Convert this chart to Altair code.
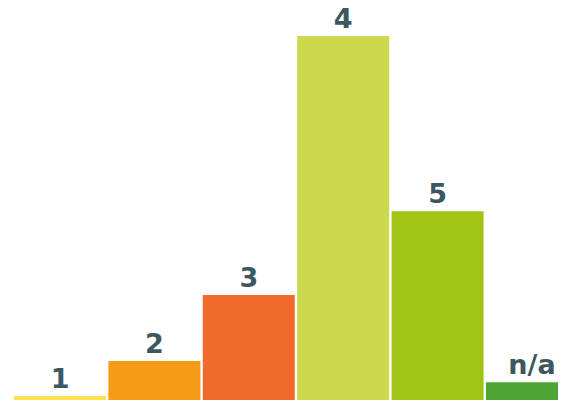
import altair as alt
import pandas as pd

categories = ["1", "2", "3", "4", "5", "n/a"]
values = [1.3, 10.2, 27.0, 92.9, 48.3, 4.8]
colors = ["#FFE14F", "#F59B15", "#EF6A2B", "#CCD84E", "#A0C316", "#4CA535"]

df = pd.DataFrame({"cat": categories, "val": values})

x = alt.X("cat:N", sort=None, axis=None,
          scale=alt.Scale(paddingInner=0.025, paddingOuter=0))
y = alt.Y("val:Q", axis=None, scale=alt.Scale(domain=[0, 96.97], nice=False))

bars = alt.Chart(df).mark_bar().encode(
    x=x, y=y,
    color=alt.Color("cat:N", sort=None, legend=None,
                    scale=alt.Scale(domain=categories, range=colors)),
)

labels = alt.Chart(df).mark_text(
    font="DejaVu Sans", fontWeight="bold", fontSize=27,
    color="#3D5761", dy=-8, baseline="alphabetic", align="center"
).encode(x=x, y=y, text="cat:N")

chart = alt.layer(bars, labels).properties(
    width=564, height=381,
    padding={"left": 6, "top": 12, "right": -20, "bottom": -1},
    autosize=alt.AutoSizeParams(type="none"),
).configure_view(stroke=None)

chart.save("out.html", embed_options={"renderer": "svg", "actions": False})
